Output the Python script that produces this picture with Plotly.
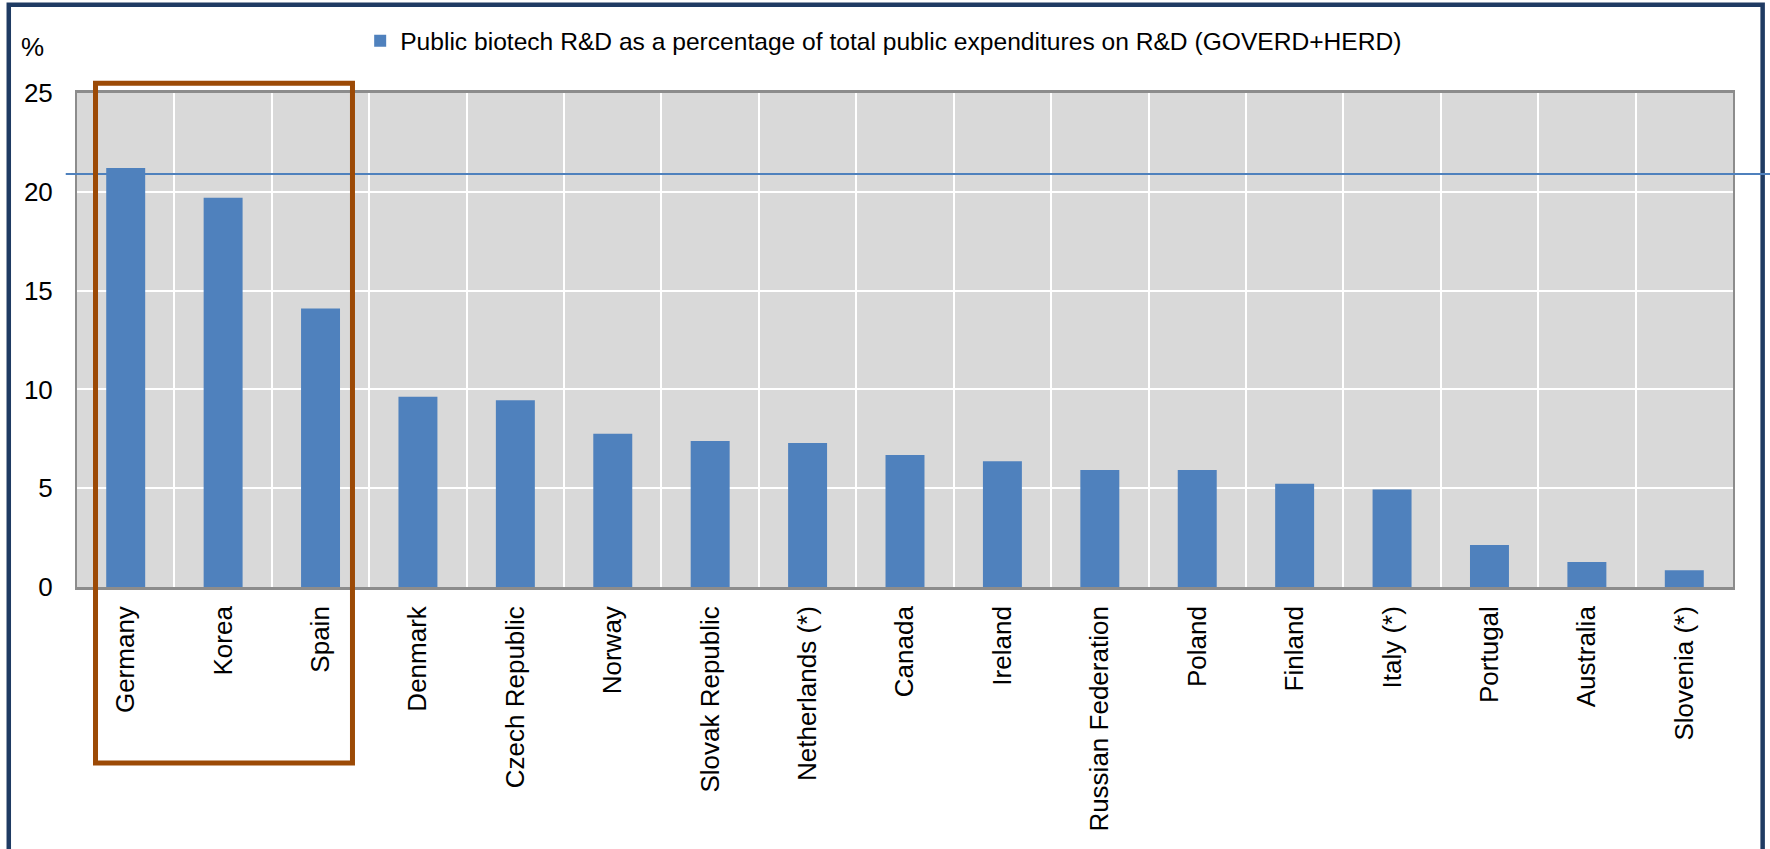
import plotly.graph_objects as go

countries = ["Germany", "Korea", "Spain", "Denmark", "Czech Republic", "Norway",
             "Slovak Republic", "Netherlands (*)", "Canada", "Ireland",
             "Russian Federation", "Poland", "Finland", "Italy (*)", "Portugal",
             "Australia", "Slovenia (*)"]
values = [21.2, 19.7, 14.1, 9.63, 9.45, 7.75, 7.39, 7.29, 6.68, 6.36,
          5.92, 5.92, 5.22, 4.93, 2.13, 1.26, 0.85]
series_name = "Public biotech R&D as a percentage of total public expenditures on R&D (GOVERD+HERD)"
reference_level = 20.9
highlight = ["Germany", "Korea", "Spain"]
y_ticks = [0, 5, 10, 15, 20, 25]

FONT = "Liberation Sans, Arial, sans-serif"
BAR = "#4F81BD"

fig = go.Figure()
fig.add_trace(go.Bar(x=countries, y=values, name=series_name,
                     marker=dict(color=BAR, line=dict(width=0)),
                     width=0.4, showlegend=True))

i0 = countries.index(highlight[0])
i1 = countries.index(highlight[-1])

shapes = [
    # outer frame
    dict(type="rect", xref="paper", yref="paper", x0=-0.0412, x1=1.0179,
         y0=-0.65, y1=1.1787, line=dict(color="#1F3B63", width=4.5), layer="above"),
    # reference line
    dict(type="line", xref="paper", yref="y", x0=-0.0068, x1=1.03,
         y0=reference_level, y1=reference_level, line=dict(color=BAR, width=2), layer="above"),
    # highlight box
    dict(type="rect", xref="x", yref="paper", x0=i0 - 0.31, x1=i1 + 0.328,
         y0=-0.3565, y1=1.0199, line=dict(color="#9C4A06", width=5), layer="above"),
]

fig.update_layout(
    width=1770, height=849,
    margin=dict(l=77, r=37, t=93, b=262, autoexpand=False),
    paper_bgcolor="white", plot_bgcolor="#D9D9D9",
    font=dict(family=FONT, size=26, color="black"),
    bargap=0.6,
    showlegend=True,
    legend=dict(orientation="h", x=0.171, xanchor="left", y=1.106, yanchor="middle",
                font=dict(size=24.6, family=FONT), bgcolor="rgba(0,0,0,0)",
                itemwidth=30),
    xaxis=dict(type="category", tickson="boundaries", showgrid=True, gridcolor="white",
               gridwidth=2, ticks="", tickangle=-90, showline=True, mirror=True,
               linecolor="#8C8C8C", linewidth=2.5, tickfont=dict(size=26),
               ticklabelstandoff=6),
    yaxis=dict(range=[0, 25], tickvals=y_ticks, showgrid=True, gridcolor="white",
               gridwidth=2, ticks="", showline=True, mirror=True, linecolor="#8C8C8C",
               linewidth=2, zeroline=False, tickfont=dict(size=26), ticklabelstandoff=17),
    shapes=shapes,
    annotations=[dict(text="%", xref="paper", yref="paper", x=-0.0266, y=1.093,
                      xanchor="center", yanchor="middle", showarrow=False,
                      font=dict(size=26, family=FONT))],
)

fig.write_html("out.html")
